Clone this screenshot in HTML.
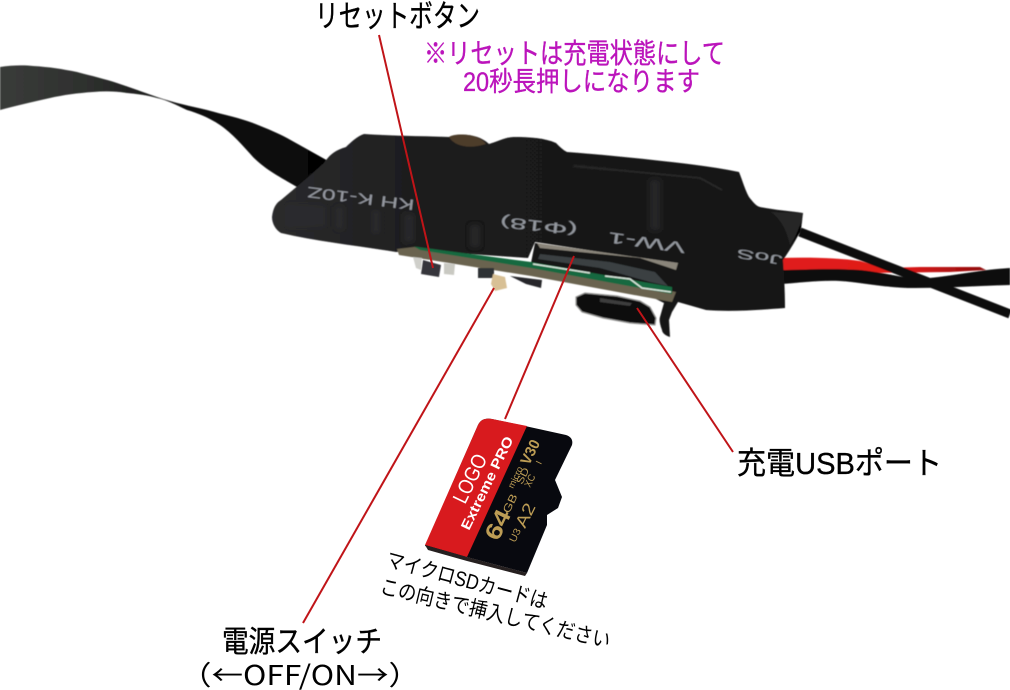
<!DOCTYPE html>
<html lang="ja"><head><meta charset="utf-8"><title>Diagram</title>
<style>html,body{margin:0;padding:0;background:#fff;width:1010px;height:690px;overflow:hidden}svg{display:block}
text{font-family:"Liberation Sans","Noto Sans CJK JP",sans-serif}
.lbl{stroke-width:.35}</style></head>
<body>
<svg width="1010" height="690" viewBox="0 0 1010 690" xmlns="http://www.w3.org/2000/svg">
<defs>
<linearGradient id="rib" x1="0" x2="1" y1="0" y2="0"><stop offset="0" stop-color="#3a3c3a"/><stop offset=".3" stop-color="#2c2e2c"/><stop offset=".55" stop-color="#111"/><stop offset="1" stop-color="#050505"/></linearGradient>
<linearGradient id="body" x1="0" x2="1" y1="0" y2="0"><stop offset="0" stop-color="#2b2b2d"/><stop offset=".35" stop-color="#1a1a1a"/><stop offset="1" stop-color="#191919"/></linearGradient>
<linearGradient id="red" x1="0" x2="1" y1="0" y2="0"><stop offset="0" stop-color="#e0201c"/><stop offset=".6" stop-color="#e01a18"/><stop offset="1" stop-color="#8e0d0e"/></linearGradient>
<filter id="soft" x="-5%" y="-5%" width="110%" height="110%"><feGaussianBlur stdDeviation="0.6"/></filter>
<filter id="soft2" x="-20%" y="-20%" width="140%" height="140%"><feGaussianBlur stdDeviation="2.5"/></filter>
</defs>
<g filter="url(#soft)">
<!-- ribbon -->
<path d="M0 67C12 65 25 65 33 66C50 67 62 69 77 72C92 76 105 79 117 83C132 88 146 93 157 97C175 103 190 106 207 110C225 115 240 118 253 123C265 128 276 132 287 138L330 162L297 187C280 177 266 170 253 157C243 146 232 133 220 125C208 117 197 113 187 110C176 105 167 100 157 98C147 95 137 94 127 93C115 91 104 91 93 92C78 93 63 95 50 98C32 102 15 106 0 110Z" fill="url(#rib)"/>
<!-- wires -->
<path d="M780 258C810 257 840 258 860 261L884 268L920 267L980 267L986 270L950 272L780 274Z" fill="url(#red)"/>
<path d="M780 270C800 270 830 268 860 270C880 272 895 276 915 279C945 278 975 270 1010 268L1010 285C975 286 945 288 915 288C885 288 860 282 840 281C820 280 800 283 780 284Z" fill="#0a0a0a"/>
<path d="M800 232L1010 314" stroke="#0b0b0b" stroke-width="9" fill="none"/>
<!-- body -->
<path d="M272 217C273 208 276 203 281 200C295 188 310 176 324 163C330 154 336 150 346 147C352 141 358 136 364 134C395 136 425 136 449 137C462 133 478 134 489 144C497 142 505 137 514 137C530 137 545 138 556 143C560 147 563 150 567 152C595 154 625 157 653 160C680 163 710 166 739 172C743 182 745 190 749 197C753 202 756 206 760 207C775 210 790 211 803 213L801 230C796 240 790 250 783 260C784 275 785 290 785 308C760 310 730 312 706 310L678 302L672 312L669 320L670 337C666 336 662 333 662 330C660 325 659 320 660 317L664 303L650 296L678 263L600 252L535 242L528 258L470 254L428 250L396 252C360 246 320 242 281 233C276 230 272 224 272 217Z" fill="url(#body)"/>
<path d="M449 137C455 133 478 133 486 144C470 149 455 147 449 137Z" fill="#4d3d2c"/>
<path d="M771 212L803 213L799 230L790 245C787 232 782 220 771 212Z" fill="#262626"/>
<path d="M793 242L802 220L800 232Z" fill="#000"/>
<g filter="url(#soft2)" fill="#333335" opacity=".55">
<rect x="336" y="207" width="7" height="22"/><rect x="372" y="210" width="8" height="24"/><rect x="404" y="214" width="10" height="28"/><rect x="470" y="225" width="10" height="22"/><rect x="286" y="205" width="40" height="22" opacity=".6"/>
<rect x="650" y="180" width="10" height="50"/>
</g>
<path d="M574 166L700 178L722 190" stroke="#2d2d2d" stroke-width="2" fill="none" opacity=".7"/>
<g fill="#a9adb6" opacity=".85" font-size="15">
<text transform="translate(415 200) rotate(187)" textLength="108" lengthAdjust="spacingAndGlyphs">KH K-10Z</text>
<text transform="translate(578 225) rotate(186)" textLength="78" lengthAdjust="spacingAndGlyphs">(Φ18)</text>
<text transform="translate(686 243) rotate(188)" textLength="78" lengthAdjust="spacingAndGlyphs">VW-1</text>
<text transform="translate(783 256) rotate(189)" textLength="46" lengthAdjust="spacingAndGlyphs" font-size="13">JoS</text>
</g>
<!-- pcb -->
<path d="M397 249L414 247L531 263L676 292L672 302L531 276L399 255Z" fill="#6a6350"/>
<path d="M535 243L678 263L674 290L531 263Z" fill="#141414"/>
<path d="M414 246.5L531 262L672 287L672 294L531 268L420 250Z" fill="#15693f"/>
<path d="M533 264L590 273M605 276L630 279L642 288L671 292" stroke="#d8e6dc" stroke-width="1.5" fill="none"/>
<path d="M537 243L678 263L676 270L640 258L540 248Z" fill="#8a857a"/>
<path d="M540 254L610 262L655 272L668 286L650 282L600 268L538 259Z" fill="#3a3f42"/>
<!-- components -->
<path d="M413 257L422 258L421 270L416 268Z" fill="#cfcfca"/>
<path d="M444 263L455 264L454 275L444 274Z" fill="#c9c9c2"/>
<path d="M423 260L441 265L439 277L421 274Z" fill="#34353b"/>
<rect x="478" y="268" width="16" height="10" fill="#2f3036"/>
<path d="M510 276L542 280L541 288L526 284Z" fill="#25262a"/>
<path d="M493 274L505 277L507 288L495 291L491 284Z" fill="#d8c095"/>
<!-- usb -->
<path d="M576 297L585 293L617 296L640 301L650 307L656 318L655 325L630 323L603 318L582 312L576 305Z" fill="#0c0c0c" stroke="#9a9a98" stroke-width="1.2"/>
<path d="M600 298L632 303L630 306L600 302Z" fill="#3c3c3c"/>
</g>
<!-- lines -->
<g stroke="#c01418" stroke-width="2" fill="none">
<line x1="379" y1="35" x2="433" y2="268"/>
<line x1="494" y1="288" x2="303" y2="623"/>
<line x1="574" y1="256" x2="505" y2="419"/>
<line x1="637" y1="308" x2="733" y2="452"/>
</g>
<!-- SD card -->
<path d="M478 425C481 419 486 418 492 419L525 426L566 435C572 437 573 441 572 445L555 480L562 497L558 508L547 515L547 525L527 573L425 546Z" fill="#08090f"/>
<path d="M478 425C481 419 486 418 492 419L527 426L467 557L425 545Z" fill="#d81a1e"/>
<path d="M425 545L467 557L527 573L525 576L467 561L428 550Z" fill="#262020"/>
<text transform="translate(465 505) rotate(-64)" font-size="21" fill="#fff" textLength="52" lengthAdjust="spacingAndGlyphs">LOGO</text>
<text transform="translate(469 531) rotate(-64)" font-size="14" font-weight="bold" fill="#fff" textLength="102" lengthAdjust="spacingAndGlyphs">Extreme PRO</text>
<g fill="#bd9d55">
<text transform="translate(498 542) rotate(-64)" font-size="23" font-weight="bold" textLength="31" lengthAdjust="spacingAndGlyphs">64</text>
<text transform="translate(509 514) rotate(-64)" font-size="11" textLength="20" lengthAdjust="spacingAndGlyphs">GB</text>
<text transform="translate(525 529) rotate(-64)" font-size="17" textLength="25" lengthAdjust="spacingAndGlyphs">A2</text>
<text transform="translate(515 543) rotate(-64)" font-size="10" textLength="14" lengthAdjust="spacingAndGlyphs">U3</text>
<text transform="translate(513 489) rotate(-64)" font-size="9" textLength="23" lengthAdjust="spacingAndGlyphs">micro</text>
<text transform="translate(522 485) rotate(-64)" font-size="10" textLength="17" lengthAdjust="spacingAndGlyphs">SD</text>
<text transform="translate(530 488) rotate(-64)" font-size="10" textLength="13" lengthAdjust="spacingAndGlyphs">XC</text>
<text transform="translate(529 466) rotate(-64)" font-size="15" font-weight="bold" textLength="26" lengthAdjust="spacingAndGlyphs">V30</text>
<text transform="translate(541 465) rotate(-64)" font-size="9">I</text>
</g>
<!-- labels -->
<text class="lbl" stroke="#000" x="315" y="27" font-size="31" fill="#000" textLength="165" lengthAdjust="spacingAndGlyphs">リセットボタン</text>
<text class="lbl" stroke="#bb14bb" x="424" y="63" font-size="28" fill="#bb14bb" textLength="301" lengthAdjust="spacingAndGlyphs">※リセットは充電状態にして</text>
<text class="lbl" stroke="#bb14bb" x="463" y="91" font-size="27" fill="#bb14bb" textLength="237" lengthAdjust="spacingAndGlyphs">20秒長押しになります</text>
<text class="lbl" stroke="#000" x="737" y="474" font-size="31" fill="#000" textLength="205" lengthAdjust="spacingAndGlyphs">充電USBポート</text>
<text class="lbl" stroke="#000" x="222" y="652" font-size="30" fill="#000" textLength="160" lengthAdjust="spacingAndGlyphs">電源スイッチ</text>
<text x="180" y="685" font-size="27" fill="#000" textLength="240" lengthAdjust="spacingAndGlyphs" style="font-family:'Noto Sans CJK JP','Liberation Sans',sans-serif">（←OFF/ON→）</text>
<text transform="translate(385 566) rotate(15)" font-size="21" fill="#000" textLength="166" lengthAdjust="spacingAndGlyphs">マイクロSDカードは</text>
<text transform="translate(379 593) rotate(13.5)" font-size="21" fill="#000" textLength="236" lengthAdjust="spacingAndGlyphs">この向きで挿入してください</text>
</svg>
</body></html>
